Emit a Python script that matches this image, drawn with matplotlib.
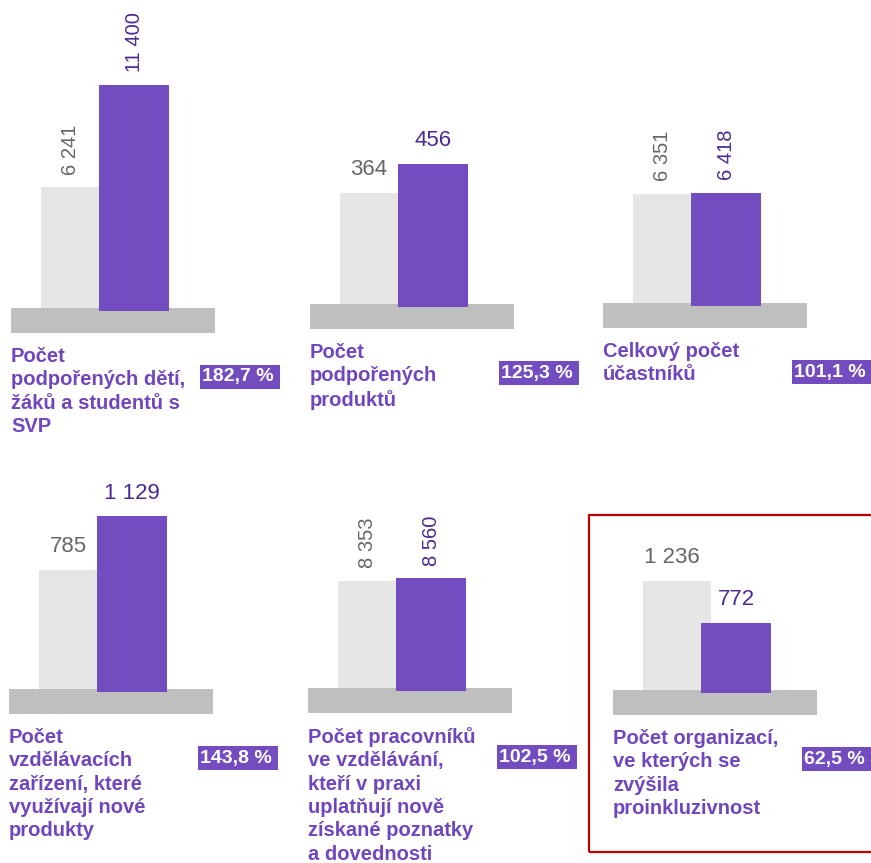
#!/usr/bin/env python3
"""Six small target-vs-actual panels (grey = target, purple = actual)."""
import matplotlib
matplotlib.use("Agg")
import matplotlib.pyplot as plt
from matplotlib.patches import Rectangle
from matplotlib.transforms import blended_transform_factory

plt.rcParams["font.family"] = ["Liberation Sans", "DejaVu Sans"]

# --- data -------------------------------------------------------------
titles = [
    "Počet\npodpořených dětí,\nžáků a studentů s\nSVP",
    "Počet\npodpořených\nproduktů",
    "Celkový počet\núčastníků",
    "Počet\nvzdělávacích\nzařízení, které\nvyužívají nové\nprodukty",
    "Počet pracovníků\nve vzdělávání,\nkteří v praxi\nuplatňují nově\nzískané poznatky\na dovednosti",
    "Počet organizací,\nve kterých se\nzvýšila\nproinkluzivnost",
]
target = [6241, 364, 6351, 785, 8353, 1236]
actual = [11400, 456, 6418, 1129, 8560, 772]
axis_max = [12100, 765, 13600, 1540, 18200, 2640]

# --- layout (pixels, from top-left of the 871x863 canvas) -------------
W, H = 871, 863
plat_left = [11, 310, 603, 9, 308, 613]
plat_top = [308, 304, 303, 689, 688, 690]
grey_w = [58, 58, 58, 58, 58, 68]
label_rot = [90, 0, 90, 0, 90, 0]
PLAT_W, PLAT_H = 204, 25
BAR_AREA = 240  # pixels from bar bottom to axis_max

PURPLE = "#734DBF"
TITLE_C = "#7046BE"
GREY_BAR = "#E6E6E6"
PLAT_C = "#BFBFBF"
GREY_TXT = "#666666"
PURPLE_TXT = "#4A2A92"


def fx(px):
    return px / W


def fy(py):
    return 1 - py / H


def fmt(v):
    return f"{v:,}".replace(",", " ")


fig = plt.figure(figsize=(W / 100, H / 100), dpi=100)

for i in range(6):
    left = plat_left[i]
    bar_bottom = plat_top[i] + 3
    ax_bottom = plat_top[i] + PLAT_H
    ax_top = bar_bottom - BAR_AREA
    ax = fig.add_axes([fx(left), fy(ax_bottom), PLAT_W / W, (ax_bottom - ax_top) / H])
    ax.set_xlim(0, PLAT_W)
    ymax = axis_max[i]
    ax.set_ylim(-(ax_bottom - bar_bottom) / BAR_AREA * ymax, ymax)
    ax.axis("off")

    # platform
    tr = blended_transform_factory(ax.transData, ax.transAxes)
    ax.add_patch(Rectangle((0, 0), PLAT_W, PLAT_H / (ax_bottom - ax_top),
                           transform=tr, fc=PLAT_C, ec="none", zorder=2))

    gw = grey_w[i]
    gx = 30
    px, pw = 88, 70
    ax.bar(gx, target[i], width=gw, align="edge", color=GREY_BAR, zorder=1)
    ax.bar(px, actual[i], width=pw, align="edge", color=PURPLE, zorder=3)

    rot = label_rot[i]
    fs = 14.5 if rot else 16
    for xc, v, c in ((gx + gw / 2 - (5 if i == 5 else 0), target[i], GREY_TXT),
                     (px + pw / 2, actual[i], PURPLE_TXT)):
        ax.annotate(fmt(v), (xc, v), xytext=(0, 9), textcoords="offset points",
                    ha="center", va="bottom", rotation=rot, fontsize=fs,
                    color=c, annotation_clip=False)

    # title
    fig.text(fx(left), fy(plat_top[i] + 39), titles[i], ha="left", va="top",
             fontsize=14.5, fontweight="bold", color=TITLE_C, linespacing=1.29)

    # percentage badge
    pct = actual[i] / target[i] * 100
    bx, by = left + 189, plat_top[i] + 57
    fig.patches.append(Rectangle((fx(bx), fy(by + 24)), 80 / W, 24 / H,
                                 transform=fig.transFigure, fc=PURPLE, ec="none"))
    fig.text(fx(bx + 2), fy(by + 12), f"{pct:.1f}".replace(".", ",") + " %",
             ha="left", va="center", fontsize=14, fontweight="bold", color="white")

# highlight frame around the last panel
fig.patches.append(Rectangle((fx(589), fy(852)), (875 - 589) / W, (852 - 515) / H,
                             transform=fig.transFigure, fc="none", ec="#C00000", lw=1.6))

fig.savefig("out.png", dpi=100)
